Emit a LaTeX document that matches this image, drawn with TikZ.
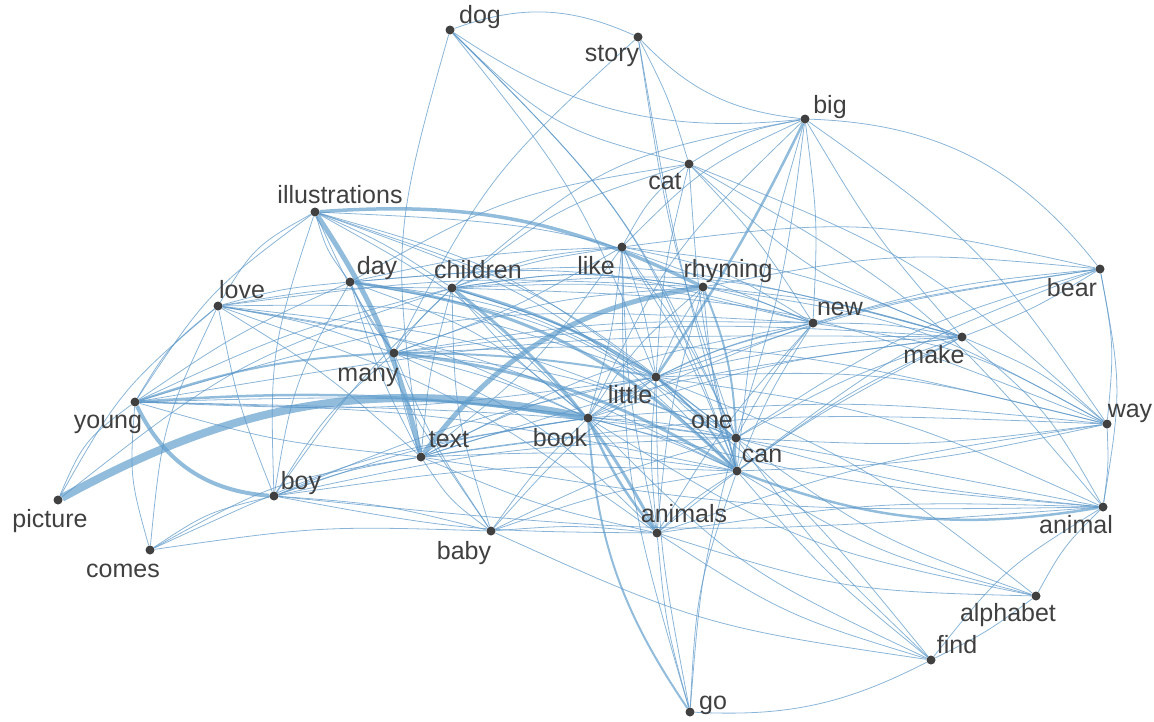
\documentclass[tikz,border=0pt]{standalone}
\usepackage{fontspec}
\setmainfont{Liberation Sans}
\pgfdeclarelayer{bg}
\pgfsetlayers{bg,main}
\definecolor{ec}{RGB}{90,150,200}
\definecolor{tc}{RGB}{100,160,205}
\definecolor{nc}{RGB}{64,64,64}
\tikzset{x=1pt,y=1pt,
  dot/.style={circle,fill=nc,inner sep=0pt,minimum size=9pt},
  lab/.style={text=nc,font=\fontsize{25}{25}\selectfont,inner sep=0pt,text height=18pt,text depth=5pt},
  e/.style={draw=ec,draw opacity=0.7,line width=0.8pt,looseness=1.25},
  w/.style={draw=tc,line width=#1pt,draw opacity=0.7,looseness=1},
  bl/.style={bend left=#1}, bl/.default=15,
  br/.style={bend right=#1}, br/.default=15}
\newcommand\edg[3][]{\draw[e,#1] (#2) to (#3);}
\begin{document}
\begin{tikzpicture}
\useasboundingbox (0,0) rectangle (1154,-721);
% nodes
\node[dot] (dog) at (450,-30) {};
\node[dot] (story) at (638,-37) {};
\node[dot] (big) at (805,-119) {};
\node[dot] (cat) at (689,-164) {};
\node[dot] (illustrations) at (315,-212) {};
\node[dot] (like) at (622,-247) {};
\node[dot] (rhyming) at (703,-287) {};
\node[dot] (day) at (350,-282) {};
\node[dot] (children) at (452,-288) {};
\node[dot] (love) at (218,-306) {};
\node[dot] (bear) at (1100,-269) {};
\node[dot] (new) at (813,-323) {};
\node[dot] (make) at (962,-337) {};
\node[dot] (many) at (394,-353) {};
\node[dot] (little) at (656,-377) {};
\node[dot] (young) at (135,-402) {};
\node[dot] (way) at (1107,-424) {};
\node[dot] (one) at (736,-438) {};
\node[dot] (book) at (588,-418) {};
\node[dot] (text) at (421,-457) {};
\node[dot] (can) at (737,-471) {};
\node[dot] (boy) at (274,-496) {};
\node[dot] (picture) at (58,-500) {};
\node[dot] (animal) at (1103,-507) {};
\node[dot] (animals) at (657,-533) {};
\node[dot] (baby) at (491,-531) {};
\node[dot] (comes) at (150,-550) {};
\node[dot] (alphabet) at (1036,-596) {};
\node[dot] (find) at (931,-660) {};
\node[dot] (go) at (690,-712) {};
% labels
\node[lab] (Ldog) at (480,-17) {dog};
\node[lab] (Lstory) at (612,-55) {story};
\node[lab] (Lbig) at (830,-107) {big};
\node[lab] (Lcat) at (665,-183) {cat};
\node[lab] (Lillustrations) at (340,-197) {illustrations};
\node[lab] (Llike) at (596,-268) {like};
\node[lab] (Lrhyming) at (728,-271) {rhyming};
\node[lab] (Lday) at (377,-268) {day};
\node[lab] (Lchildren) at (478,-272) {children};
\node[lab] (Llove) at (242,-292) {love};
\node[lab] (Lbear) at (1072,-290) {bear};
\node[lab] (Lnew) at (840,-309) {new};
\node[lab] (Lmake) at (934,-357) {make};
\node[lab] (Lmany) at (368,-375) {many};
\node[lab] (Llittle) at (630,-397) {little};
\node[lab] (Lyoung) at (108,-422) {young};
\node[lab] (Lway) at (1130,-411) {way};
\node[lab] (Lone) at (712,-422) {one};
\node[lab] (Lbook) at (560,-440) {book};
\node[lab] (Ltext) at (449,-441) {text};
\node[lab] (Lcan) at (762,-456) {can};
\node[lab] (Lboy) at (301,-483) {boy};
\node[lab] (Lpicture) at (50,-521) {picture};
\node[lab] (Lanimal) at (1076,-527) {animal};
\node[lab] (Lanimals) at (684,-516) {animals};
\node[lab] (Lbaby) at (464,-553) {baby};
\node[lab] (Lcomes) at (123,-571) {comes};
\node[lab] (Lalphabet) at (1008,-615) {alphabet};
\node[lab] (Lfind) at (957,-647) {find};
\node[lab] (Lgo) at (713,-703) {go};
\begin{pgfonlayer}{bg}
% thick edges
\edg[w=8,bl=20]{picture}{book}
\edg[w=5,bl=22]{text}{rhyming}
\edg[w=5,bl=10]{illustrations}{text}
\edg[w=4,br=30]{young}{boy}
\edg[w=3.5,bl=15]{illustrations}{rhyming}
\edg[w=3,bl=18]{day}{can}
\edg[w=3,bl=12]{many}{can}
\edg[w=3,bl=12]{children}{animals}
\edg[w=2.5,bl=6]{young}{book}
\edg[w=2.5,br=15]{can}{animal}
\edg[w=2.5,br=4]{little}{big}
\edg[w=3,br=10]{one}{can}
\edg[w=2.5,br=8]{book}{animals}
\edg[w=2,br=15]{book}{go}
\edg[w=2.5,bl=8]{children}{little}
\edg[w=2,bl=5]{many}{little}
\edg[w=2,bl=10]{little}{can}
\edg[w=2,bl=8]{young}{many}
\edg[w=2,bl=10]{rhyming}{one}
% thin edges
\edg[bl=22,looseness=1]{dog}{story}
\edg[br=20,looseness=1]{dog}{big}
\edg[br=15]{dog}{cat}
\edg[bl=12]{dog}{can}
\edg[bl=10]{dog}{one}
\edg[bl=8]{dog}{little}
\edg[br=12]{dog}{text}
\edg[br=20,looseness=1]{story}{big}
\edg[bl=5]{story}{cat}
\edg[br=5]{story}{one}
\edg[br=10]{story}{many}
\edg[br=3]{story}{can}
\edg[bl=25,looseness=1]{big}{bear}
\edg[br=10]{big}{cat}
\edg[br=10]{big}{like}
\edg[br=15]{big}{children}
\edg[br=5]{big}{can}
\edg[br=10]{big}{book}
\edg[bl=5]{big}{one}
\edg[bl=5]{big}{new}
\edg[br=5]{big}{make}
\edg[bl=10]{big}{way}
\edg[br=10]{cat}{like}
\edg[br=10]{cat}{children}
\edg[br=10]{cat}{day}
\edg[bl=10]{cat}{animal}
\edg[br=10]{cat}{make}
\edg[br=5]{cat}{can}
\edg[br=5]{cat}{little}
\edg[bl=5]{cat}{new}
\edg[bl=10]{cat}{way}
\edg[br=15]{illustrations}{love}
\edg[br=10]{illustrations}{day}
\edg[bl=5]{illustrations}{children}
\edg[br=5]{illustrations}{many}
\edg[bl=10]{illustrations}{one}
\edg[bl=12]{illustrations}{can}
\edg[bl=10]{illustrations}{little}
\edg[bl=10]{illustrations}{new}
\edg[bl=8]{illustrations}{book}
\edg[br=10]{illustrations}{boy}
\edg[br=10]{illustrations}{young}
\edg[br=5]{like}{children}
\edg[br=5]{like}{day}
\edg[bl=5]{like}{many}
\edg[bl=5]{like}{little}
\edg[bl=5]{like}{can}
\edg[bl=5]{like}{one}
\edg[bl=5]{like}{book}
\edg[br=5]{like}{animals}
\edg[br=8]{like}{go}
\edg[bl=10]{like}{new}
\edg[bl=8]{like}{text}
\edg[bl=10]{like}{bear}
\edg[bl=8]{like}{make}
\edg[bl=5]{rhyming}{new}
\edg[bl=5]{rhyming}{make}
\edg[br=5]{rhyming}{little}
\edg[br=5]{rhyming}{can}
\edg[br=8]{rhyming}{children}
\edg[bl=8]{rhyming}{bear}
\edg[bl=10]{rhyming}{way}
\edg[br=8]{rhyming}{book}
\edg[br=5]{rhyming}{animals}
\edg[br=8]{rhyming}{many}
\edg[br=5]{day}{love}
\edg[br=5]{day}{many}
\edg[bl=10]{day}{book}
\edg[bl=10]{day}{little}
\edg[bl=12]{day}{one}
\edg[br=10]{day}{boy}
\edg[br=5]{day}{baby}
\edg[br=5]{day}{young}
\edg[br=5]{day}{text}
\edg[bl=10]{day}{new}
\edg[bl=10]{day}{make}
\edg[br=5]{children}{love}
\edg[bl=8]{children}{like}
\edg[bl=8]{children}{rhyming}
\edg[bl=10]{children}{one}
\edg[bl=15]{children}{can}
\edg[br=5]{children}{book}
\edg[br=5]{children}{young}
\edg[br=5]{children}{many}
\edg[br=5]{children}{text}
\edg[br=8]{children}{baby}
\edg[bl=8]{children}{new}
\edg[bl=10]{children}{make}
\edg[bl=10]{children}{way}
\edg[br=5]{children}{boy}
\edg[br=10]{love}{young}
\edg[br=5]{love}{boy}
\edg[bl=5]{love}{many}
\edg[bl=8]{love}{book}
\edg[bl=10]{love}{little}
\edg[bl=8]{love}{can}
\edg[bl=8]{love}{one}
\edg[br=10]{love}{comes}
\edg[bl=5]{love}{text}
\edg[br=10]{love}{picture}
\edg[bl=8]{love}{animals}
\edg[bl=5]{love}{rhyming}
\edg[bl=5]{bear}{make}
\edg[br=5]{bear}{new}
\edg[br=8]{bear}{one}
\edg[br=8]{bear}{can}
\edg[bl=8]{bear}{way}
\edg[bl=10]{bear}{animal}
\edg[br=5]{bear}{little}
\edg[br=8]{bear}{book}
\edg[br=5]{new}{little}
\edg[br=5]{new}{one}
\edg[br=5]{new}{can}
\edg[bl=5]{new}{make}
\edg[br=5]{new}{many}
\edg[br=8]{new}{book}
\edg[br=5]{new}{animals}
\edg[br=10]{new}{young}
\edg[bl=10]{new}{way}
\edg[br=8]{new}{text}
\edg[br=5]{make}{can}
\edg[br=5]{make}{one}
\edg[br=5]{make}{little}
\edg[br=5]{make}{book}
\edg[br=5]{make}{many}
\edg[bl=8]{make}{way}
\edg[bl=10]{make}{animal}
\edg[br=5]{make}{young}
\edg[br=5]{make}{text}
\edg[br=5]{make}{animals}
\edg[br=5]{many}{text}
\edg[bl=5]{many}{book}
\edg[bl=8]{many}{one}
\edg[br=8]{many}{boy}
\edg[br=5]{many}{baby}
\edg[bl=10]{many}{animals}
\edg[bl=8]{many}{way}
\edg[bl=5]{little}{young}
\edg[br=5]{little}{book}
\edg[br=5]{little}{animals}
\edg[br=8]{little}{text}
\edg[bl=8]{little}{way}
\edg[bl=8]{little}{animal}
\edg[bl=8]{little}{alphabet}
\edg[bl=5]{little}{find}
\edg[br=5]{little}{go}
\edg[br=10]{little}{one}
\edg[br=5]{little}{boy}
\edg[br=5]{little}{baby}
\edg[br=15]{young}{picture}
\edg[br=10]{young}{comes}
\edg[bl=5]{young}{one}
\edg[bl=5]{young}{can}
\edg[br=5]{young}{text}
\edg[bl=5]{young}{animal}
\edg[bl=5]{way}{one}
\edg[bl=5]{way}{can}
\edg[bl=5]{way}{animal}
\edg[br=5]{way}{book}
\edg[br=5]{way}{animals}
\edg[br=5]{way}{text}
\edg[br=5]{one}{book}
\edg[br=5]{one}{animal}
\edg[br=8]{one}{alphabet}
\edg[br=5]{one}{find}
\edg[br=5]{one}{go}
\edg[br=5]{one}{boy}
\edg[br=5]{one}{baby}
\edg[br=5]{book}{text}
\edg[br=5]{book}{baby}
\edg[bl=5]{book}{can}
\edg[br=10]{book}{find}
\edg[br=10]{book}{alphabet}
\edg[br=5]{book}{animal}
\edg[br=5]{book}{boy}
\edg[br=8]{book}{comes}
\edg[br=10]{text}{baby}
\edg[bl=5]{text}{can}
\edg[br=5]{text}{animals}
\edg[bl=5]{text}{one}
\edg[br=5]{text}{boy}
\edg[br=10]{text}{comes}
\edg[br=5]{text}{animal}
\edg[br=5]{can}{animals}
\edg[br=5]{can}{find}
\edg[br=8]{can}{go}
\edg[br=8]{can}{alphabet}
\edg[br=5]{can}{boy}
\edg[br=5]{can}{baby}
\edg[br=10]{boy}{comes}
\edg[bl=5]{boy}{baby}
\edg[br=5]{boy}{animals}
\edg[br=5]{boy}{animal}
\edg[bl=10]{picture}{children}
\edg[br=8]{animal}{alphabet}
\edg[br=10]{animal}{find}
\edg[br=5]{animal}{animals}
\edg[br=5]{animals}{go}
\edg[br=5]{animals}{baby}
\edg[br=8]{animals}{find}
\edg[br=8]{animals}{alphabet}
\edg[br=8]{baby}{find}
\edg[br=5]{baby}{comes}
\edg[bl=5]{alphabet}{find}
\edg[br=15,looseness=1]{go}{find}
\end{pgfonlayer}
\end{tikzpicture}
\end{document}
